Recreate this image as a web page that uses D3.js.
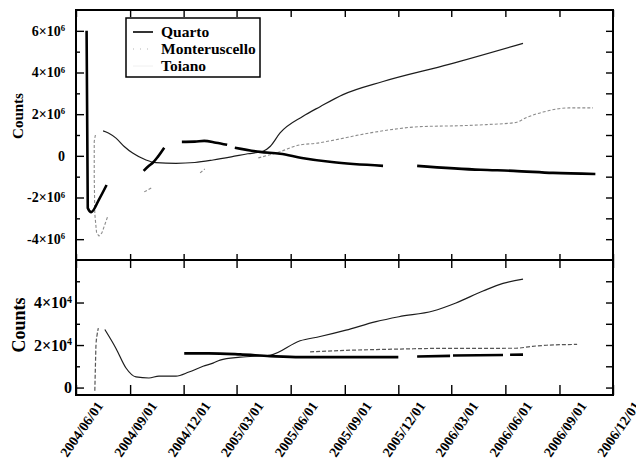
<!DOCTYPE html>
<html>
<head>
<meta charset="utf-8">
<script src="https://cdn.jsdelivr.net/npm/d3@7"></script>
<style>
  body { margin: 0; background: #fff; }
  svg { display: block; font-family: "Liberation Serif", "Times New Roman", serif; font-weight: bold; }
</style>
</head>
<body>
<svg id="chart" width="636" height="461"></svg>
<script>
// x tick labels (every 3 months)
const dateTicks = ["2004/06/01", "2004/09/01", "2004/12/01", "2005/03/01", "2005/06/01",
  "2005/09/01", "2005/12/01", "2006/03/01", "2006/06/01", "2006/09/01", "2006/12/01"];

// y ticks: [mantissa, exponent]
const topTicks = [[6, 6], [4, 6], [2, 6], [0, 0], [-2, 6], [-4, 6]];
const botTicks = [[4, 4], [2, 4], [0, 0]];

const seriesNames = ["Quarto", "Monteruscello", "Toiano"];

// upper panel, segments of [date, counts]
const quartoTop = [
  [["2004-06-19", 6.0e6], ["2004-06-21", -2.5e6], ["2004-06-27", -2.7e6], ["2004-07-10", -2.1e6], ["2004-07-23", -1.4e6]],
  [["2004-09-24", -0.72e6], ["2004-10-03", -0.48e6], ["2004-10-10", -0.32e6], ["2004-10-18", -0.05e6], ["2004-10-29", 0.39e6]],
  [["2004-11-28", 0.67e6], ["2004-12-20", 0.68e6], ["2005-01-05", 0.72e6], ["2005-01-25", 0.63e6], ["2005-02-13", 0.53e6]],
  [["2005-02-26", 0.39e6], ["2005-04-10", 0.19e6], ["2005-05-14", 0.1e6], ["2005-06-20", -0.1e6],
   ["2005-08-10", -0.3e6], ["2005-11-05", -0.48e6]],
  [["2006-01-02", -0.48e6], ["2006-04-20", -0.67e6], ["2006-06-15", -0.72e6], ["2006-08-21", -0.82e6], ["2006-11-01", -0.87e6]]
];
const monteTop = [
  [["2004-07-04", 1.0e6], ["2004-07-02", 0.7e6], ["2004-07-02", -1.0e6], ["2004-07-03", -2.8e6],
   ["2004-07-06", -3.7e6], ["2004-07-10", -3.85e6], ["2004-07-15", -3.7e6], ["2004-07-25", -2.9e6]],
  [["2004-09-25", -1.73e6], ["2004-10-07", -1.54e6]],
  [["2004-12-29", -0.82e6], ["2005-01-06", -0.63e6]],
  [["2005-04-07", -0.1e6], ["2005-05-14", 0.2e6], ["2005-06-17", 0.53e6], ["2005-07-14", 0.6e6],
   ["2005-08-07", 0.72e6], ["2005-10-14", 1.1e6], ["2006-01-07", 1.4e6], ["2006-03-21", 1.45e6],
   ["2006-04-30", 1.5e6], ["2006-06-19", 1.6e6], ["2006-07-06", 1.83e6], ["2006-08-04", 2.1e6],
   ["2006-09-17", 2.3e6], ["2006-10-28", 2.3e6]]
];
const toianoTop = [
  [["2004-07-17", 1.2e6], ["2004-07-26", 1.1e6], ["2004-08-08", 0.85e6], ["2004-08-22", 0.45e6],
   ["2004-09-06", 0.12e6], ["2004-09-28", -0.2e6], ["2004-10-15", -0.33e6], ["2004-11-18", -0.36e6],
   ["2004-12-20", -0.32e6], ["2005-01-20", -0.2e6], ["2005-02-20", -0.05e6], ["2005-03-20", 0.1e6],
   ["2005-04-15", 0.22e6], ["2005-04-27", 0.45e6], ["2005-05-14", 1.1e6], ["2005-06-22", 1.9e6],
   ["2005-07-21", 2.36e6], ["2005-08-29", 2.94e6], ["2005-11-05", 3.57e6], ["2006-02-25", 4.39e6],
   ["2006-07-01", 5.4e6]]
];

// lower panel
const quartoBot = [
  [["2004-12-02", 16.1e3], ["2005-01-13", 16.1e3], ["2005-03-07", 15.6e3], ["2005-04-27", 14.8e3],
   ["2005-06-17", 14.3e3], ["2005-12-01", 14.3e3]],
  [["2006-01-02", 14.6e3], ["2006-02-27", 14.9e3]],
  [["2006-03-04", 15.1e3], ["2006-05-28", 15.3e3]],
  [["2006-06-09", 15.4e3], ["2006-07-01", 15.5e3]]
];
const monteBot = [
  [["2004-07-03", -1.5e3], ["2004-07-04", 10e3], ["2004-07-05", 20e3], ["2004-07-07", 25e3], ["2004-07-09", 28e3]],
  [["2005-07-04", 16.8e3], ["2005-09-03", 17.5e3], ["2005-12-02", 18.1e3], ["2006-01-29", 18.4e3],
   ["2006-06-19", 18.5e3], ["2006-07-17", 19.4e3], ["2006-08-10", 19.9e3], ["2006-10-01", 20.3e3]]
];
const toianoBot = [
  [["2004-07-20", 27.3e3], ["2004-08-08", 18.4e3], ["2004-08-25", 9.2e3], ["2004-09-11", 5.0e3],
   ["2004-10-03", 4.5e3], ["2004-10-20", 5.4e3], ["2004-11-18", 5.4e3], ["2004-12-10", 7.3e3],
   ["2005-01-03", 10e3], ["2005-01-20", 11.5e3], ["2005-02-01", 12.9e3], ["2005-03-07", 14.3e3],
   ["2005-04-27", 15.2e3], ["2005-06-17", 22e3], ["2005-07-21", 24e3], ["2005-09-03", 27e3],
   ["2005-10-24", 31e3], ["2005-12-02", 33.3e3], ["2006-01-29", 36e3], ["2006-03-09", 39.8e3],
   ["2006-04-24", 45.4e3], ["2006-05-28", 49e3], ["2006-07-01", 51e3]]
];

const parse = d3.timeParse("%Y-%m-%d");
const parseTick = d3.timeParse("%Y/%m/%d");

const svg = d3.select("#chart");
const L = 76, R = 613, T = 10, MID = 260, B = 395;

const x = d3.scaleTime().domain([parse("2004-06-01"), parse("2006-12-01")]).range([L, R]);
const yTop = d3.scaleLinear().domain([-5e6, 7e6]).range([MID, T]);
const yBot = d3.scaleLinear().domain([-3500, 60000]).range([B, MID]);

const styles = {
  Quarto: { stroke: "#000", width: 2.6, dash: null },
  Monteruscello: { stroke: "#8c8c8c", width: 1.1, dash: "3,2" },
  Toiano: { stroke: "#1c1c1c", width: 1.2, dash: null }
};

function drawSeries(segs, y, st) {
  const line = d3.line().x(d => x(parse(d[0]))).y(d => y(d[1])).curve(d3.curveMonotoneX);
  const lineRaw = d3.line().x(d => x(parse(d[0]))).y(d => y(d[1]));
  svg.append("g").selectAll("path").data(segs).join("path")
    .attr("d", s => {
      // steep hooks are not monotone in x, draw them straight
      const mono = s.every((p, i) => i === 0 || parse(p[0]) > parse(s[i - 1][0]));
      return mono ? line(s) : lineRaw(s);
    })
    .attr("fill", "none")
    .attr("stroke", st.stroke)
    .attr("stroke-width", st.width)
    .attr("stroke-dasharray", st.dash)
    .attr("stroke-linejoin", "round");
}

drawSeries(monteTop, yTop, styles.Monteruscello);
drawSeries(toianoTop, yTop, styles.Toiano);
drawSeries(quartoTop, yTop, styles.Quarto);

drawSeries(monteBot, yBot, { stroke: "#555", width: 1.2, dash: "4,2" });
drawSeries(toianoBot, yBot, styles.Toiano);
drawSeries(quartoBot, yBot, styles.Quarto);

// y axes
function supLabel(sel, ticks, size) {
  sel.selectAll(".tick text").each(function(d) {
    const t = ticks.find(k => k[0] * Math.pow(10, k[1]) === d);
    const txt = d3.select(this).text("").attr("font-size", size);
    if (!t || t[0] === 0) { txt.text("0"); return; }
    txt.append("tspan").text(t[0] + "\u00d710");
    txt.append("tspan").attr("font-size", size * 0.62).attr("dy", "-0.55em").text(t[1]);
  });
}

function yAxes(y, ticks, minor, pad, size) {
  const vals = ticks.map(t => t[0] * Math.pow(10, t[1]));
  const gl = svg.append("g").attr("transform", `translate(${L},0)`)
    .call(d3.axisLeft(y).tickValues(vals).tickSize(-8).tickPadding(pad).tickFormat(d => String(d)));
  supLabel(gl, ticks, size);
  gl.selectAll(".tick text").attr("font-family", "Liberation Serif").attr("font-weight", "bold").attr("fill", "#000");
  svg.append("g").attr("transform", `translate(${L},0)`)
    .call(d3.axisLeft(y).tickValues(minor).tickSize(-4).tickFormat(""));
  svg.append("g").attr("transform", `translate(${R},0)`)
    .call(d3.axisRight(y).tickValues(vals.concat(minor)).tickSize(-7).tickFormat(""));
}
yAxes(yTop, topTicks, [5e6, 3e6, 1e6, -1e6, -3e6], 11, 14);
yAxes(yBot, botTicks, [5e4, 3e4, 1e4], 4, 16);

// x axes
const xVals = dateTicks.map(parseTick);
svg.append("g").attr("transform", `translate(0,${T})`)
  .call(d3.axisTop(x).tickValues(xVals).tickSize(-7).tickFormat(""));
svg.append("g").attr("transform", `translate(0,${MID})`)
  .call(d3.axisBottom(x).tickValues(xVals).tickSize(-6).tickFormat(""));
svg.append("g").attr("transform", `translate(0,${MID})`)
  .call(d3.axisTop(x).tickValues(xVals).tickSize(-8).tickFormat(""));
const gx = svg.append("g").attr("transform", `translate(0,${B})`)
  .call(d3.axisBottom(x).tickValues(xVals).tickSize(-10).tickFormat(d3.timeFormat("%Y/%m/%d")));
gx.selectAll(".tick text")
  .attr("font-family", "Liberation Serif").attr("font-weight", "bold").attr("font-size", 14)
  .attr("fill", "#000")
  .attr("x", 19).attr("y", 5).attr("dy", "0.72em")
  .attr("text-anchor", "end")
  .attr("transform", "rotate(-55 19 5)");

svg.selectAll(".domain").remove();
svg.selectAll(".tick line").attr("stroke", "#000").attr("stroke-width", 1.4);

// frames
svg.append("rect").attr("x", L).attr("y", T).attr("width", R - L).attr("height", MID - T)
  .attr("fill", "none").attr("stroke", "#000").attr("stroke-width", 2);
svg.append("rect").attr("x", L).attr("y", MID).attr("width", R - L).attr("height", B - MID)
  .attr("fill", "none").attr("stroke", "#000").attr("stroke-width", 2);

// y titles
svg.append("text").attr("transform", "translate(23,116) rotate(-90)")
  .attr("text-anchor", "middle").attr("font-size", 15).text("Counts");
svg.append("text").attr("transform", "translate(25,325) rotate(-90)")
  .attr("text-anchor", "middle").attr("font-size", 18).text("Counts");

// legend
const lg = svg.append("g");
lg.append("rect").attr("x", 126).attr("y", 18).attr("width", 134).attr("height", 59)
  .attr("fill", "#fff").attr("stroke", "#000").attr("stroke-width", 1.5);
const legendStyles = [
  { stroke: "#000", width: 1.6, dash: null },
  { stroke: "#b5b5b5", width: 1.2, dash: "1,6" },
  { stroke: "#f0f0f0", width: 1, dash: null }
];
seriesNames.forEach((n, i) => {
  const cy = 32 + i * 17;
  lg.append("line").attr("x1", 133).attr("x2", 153).attr("y1", cy).attr("y2", cy)
    .attr("stroke", legendStyles[i].stroke).attr("stroke-width", legendStyles[i].width)
    .attr("stroke-dasharray", legendStyles[i].dash);
  lg.append("text").attr("x", 161).attr("y", cy).attr("dy", "0.35em")
    .attr("font-size", 15.5).text(n);
});
</script>
</body>
</html>
